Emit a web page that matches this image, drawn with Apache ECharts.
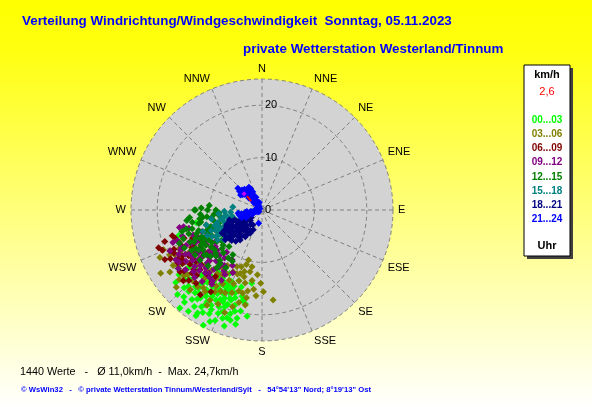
<!DOCTYPE html>
<html>
<head>
<meta charset="utf-8">
<script src="https://cdn.jsdelivr.net/npm/echarts@6/dist/echarts.min.js"></script>
<style>html,body{margin:0;padding:0;}#c{width:592px;height:407px;}</style>
</head>
<body>
<div id="c"></div>
<script>
// ---- data: [speed km/h, direction deg] ----
const directionLabels = ['N','NNE','NE','ENE','E','ESE','SE','SSE','S','SSW','SW','WSW','W','WNW','NW','NNW'];
const radiusTicks = ['0','10','20'];
const groupNames = ['00...03','03...06','06...09','09...12','12...15','15...18','18...21','21...24'];
const groupColors = ['#00ff00','#808000','#800000','#800080','#008000','#008080','#000080','#0000ff'];

const h00_03 = [[24.4,220],[23.8,212],[24.7,207],[20.8,201],[21.2,193],[18.2,199],[19.3,207],[21.1,211],[21.7,218],[19.4,221],[19.8,228],[17.4,213],[16.2,206],[16.7,198],[14.1,188],[16.6,253],[12.8,259],[17.6,192],[20.2,204],[22.2,207],[18.5,215],[20.5,215],[22.5,215],[23.0,220],[18.0,225],[21.0,225],[19.0,210],[17.0,202],[15.5,200],[22.0,200],[20.0,195],[18.8,205],[23.5,205],[16.0,218],[17.8,232],[15.0,210],[21.5,230],[19.5,235],[22.8,225],[18.2,190],[19.2,200],[20.6,208],[16.5,222],[17.2,208],[14.5,215],[15.2,195],[18.6,211],[19.9,217],[17.9,219],[21.4,203],[16.9,228],[20.9,222],[15.8,204],[18.9,196],
  [17.5,197],[18.3,203],[19.6,213],[20.3,219],[21.8,212],[22.6,210],[19.1,226],[17.7,225],[16.4,214],[15.6,207],[18.1,208],[20.7,197],[21.9,196],[23.2,212],[19.7,192],[16.9,193],[15.9,218],[17.3,217],[18.9,230],[20.1,232],[22.3,222],[21.3,207],[16.2,201],[14.8,203],[19.0,203],[23.9,216],[18.4,220],[20.4,211],[17.6,205],[22.9,203],
  [15.3,213],[16.1,209],[17.1,211],[18.7,214],[19.3,219],[16.8,216],[15.7,221],[17.0,223],[14.9,226],[16.3,231],[18.3,236],[15.4,240],[21.6,198],[22.4,193],[20.5,188],[19.8,201],[16.6,204],[21.0,216],[23.3,198],[17.9,200],[14.2,198],[13.6,207],[12.9,218],[20.2,224]];
const h03_06 = [[20.3,248],[18.5,239],[18.5,232],[18.9,224],[9.9,195],[12.0,191],[14.0,181],[15.6,179],[17.3,173],[14.3,193],[16.3,193],[17.3,204],[19.3,197],[18.4,190],[16.0,208],[17.0,215],[15.0,220],[16.5,226],[14.5,212],[13.0,205],[19.5,230],[20.0,238],[21.5,245],[17.8,236],[15.5,230],[13.8,218],[12.5,212],[11.5,200],[16.8,200],[18.0,210],[19.0,215],[20.5,222],[21.0,210],[15.2,186],[13.2,195],[17.5,245],[16.0,240],[14.0,235],[19.8,205],[22.0,228],[11.0,190],[20.8,200],[17.1,220],[18.7,243],[15.7,214],[16.6,234],
  [16.4,184],[13.6,188],[12.8,199],[18.8,229],[19.6,244],[21.2,236],[17.6,228],[15.8,222],[14.8,205],[16.1,196],[18.2,194],[19.9,210],[13.9,209],[20.6,230],[15.3,236],[22.8,238],[18.6,217],[17.0,190],[10.8,196],[12.4,184],
  [15.1,201],[14.2,198],[13.1,201],[16.9,211],[17.4,207],[19.1,220],[15.2,225],[16.2,230],[14.9,215],[17.7,242],[19.3,236],[12.2,196],[11.8,204],[15.7,190],[13.4,214]];
const h06_09 = [[20.5,248],[18.7,244],[17.0,249],[18.3,236],[14.9,246],[20.0,216],[15.5,215],[19.5,252],[17.5,240],[16.0,232],[16.8,244],[19.0,238],[18.0,228],[15.0,238],[14.0,226],[17.6,225],[16.2,220],[13.5,240],[19.8,242],[21.0,250],[15.8,250],[17.2,233],[18.8,222],[14.5,232],[16.5,238],[20.2,228],[13.0,232],[18.4,212],[17.8,254],[18.4,246],
  [19.2,246],[17.9,238],[16.4,226],[15.2,242],[14.3,248],[18.9,232],[20.8,243],[17.4,252],[16.7,215],[19.4,226],[13.8,236],[15.6,228],
  [16.1,235],[14.8,243],[17.3,229],[18.5,240],[15.3,224],[19.6,233],[16.9,247]];
const h09_12 = [[15.3,258],[16.2,239],[15.4,232],[13.5,229],[13.6,217],[11.1,211],[11.3,232],[16.2,222],[14.8,245],[12.5,238],[14.0,250],[13.0,242],[17.0,245],[16.0,252],[12.0,225],[10.5,220],[14.5,226],[15.8,228],[17.5,236],[18.0,242],[11.8,245],[13.8,235],[15.0,240],[12.8,214],[14.2,210],[16.8,230],[18.5,232],[10.8,236],[12.2,250],[17.2,250],[19.0,240],[16.5,215],[15.5,210],[13.2,205],[14.6,219],[11.5,228],[18.2,225],[16.0,245],[13.4,248],[12.0,208],[19.5,235],[17.8,220],[16.1,258],[14.2,238],
  [15.9,236],[14.9,232],[13.1,222],[12.6,232],[16.9,240],[17.6,228],[15.1,246],[14.1,244],[12.9,218],[16.4,234],[18.7,238],[11.6,218],[13.7,212],[15.7,220],[17.1,214],[14.4,256],[19.2,246],[16.6,226],[12.3,242],[18.1,250],
  [13.9,226],[15.4,224],[14.7,236],[12.7,228],[17.3,244],[13.3,244],[16.3,218],[11.9,223]];
const h12_15 = [[12.7,270],[10.6,263],[8.3,263],[12.7,252],[14.7,252],[11.7,241],[12.1,227],[14.3,238],[9.4,222],[13.5,260],[11.0,255],[9.8,248],[10.5,235],[13.0,245],[15.0,246],[14.0,232],[12.5,220],[11.2,215],[10.0,228],[8.8,238],[9.5,258],[11.8,266],[13.8,255],[15.5,240],[16.0,250],[12.0,234],[10.8,244],[13.2,228],[14.8,224],[11.5,249],[9.0,252],[8.0,246],[7.5,232],[10.2,213],[12.8,241],[14.5,262],[16.5,244],[13.6,236],[15.2,231],[11.0,222],[9.2,265],[12.3,258],[10.4,270],[7.8,258],[14.0,218],[13.0,212],[11.8,230],[15.8,255],[17.0,248],[12.6,246],[8.2,266],[12.9,270],
  [11.4,237],[12.2,244],[13.3,250],[10.1,240],[9.7,233],[11.9,259],[13.9,264],[10.9,250],[14.3,245],[12.4,225],[11.3,210],[15.4,236],[9.3,244],[8.6,253],[13.4,240],[10.6,226],[12.0,262],[14.9,256],[11.6,272],[10.1,275],[8.8,270],[13.1,218],
  [13.8,247],[12.7,238],[14.6,240],[11.1,246],[10.3,252],[13.6,231],[9.8,261],[11.4,263]];
const h15_18 = [[1.5,255],[2.0,262],[2.5,258],[3.0,250],[3.4,248],[5.6,276],[6.5,256],[8.8,249],[7.0,262],[7.5,252],[8.0,258],[9.0,244],[9.5,252],[6.8,244],[7.8,240],[8.5,236],[10.0,240],[9.2,232],[6.0,266],[10.5,248],[11.0,255],[5.8,258],[7.2,268],[8.3,265],[9.8,260],[6.2,250],[10.2,236],[4.5,262],[11.5,245],[12.0,250],[5.2,246],[7.4,236],[8.9,254],
  [6.9,250],[8.1,246],[9.3,240],[7.7,258],[5.5,252],[4.0,255],[3.7,258],[10.8,242],[9.6,246],[8.6,242],[6.4,240],[7.1,232]];
const h18_21 = [[2.5,235],[3.0,228],[3.2,242],[3.5,218],[3.8,235],[4.0,248],[4.2,225],[4.4,238],[4.6,215],[4.8,244],[5.0,230],[5.2,222],[5.4,240],[5.6,250],[5.8,226],[6.0,236],[6.2,218],[6.4,244],[6.6,230],[6.8,222],[7.0,240],[7.2,248],[7.4,228],[7.6,236],[7.8,220],[8.0,242],[8.3,230],[8.6,236],[9.0,231],[5.0,207],[6.1,249],[4.5,210],[3.6,252],[5.5,212],[6.5,253],[7.5,245],[8.2,225],[3.3,212],[4.1,204],[2.8,248],[5.9,229],[6.9,234],[4.9,237],[5.3,246],[7.1,216],
  [5.7,233],[6.3,226],[4.7,226],[3.9,240],[7.3,234],[6.7,242],[5.1,216],[4.3,232],[7.9,230],[8.8,240],[3.1,236],[6.0,212]];
const h21_24 = [[0.5,300],[0.8,320],[1.0,310],[1.2,325],[1.4,315],[1.6,330],[1.8,318],[2.0,322],[2.1,312],[2.3,328],[2.5,316],[2.6,324],[2.8,320],[3.0,314],[3.1,330],[3.3,322],[3.5,318],[3.6,326],[3.8,320],[4.0,324],[4.1,316],[4.3,328],[4.5,322],[4.6,332],[4.8,326],[5.0,330],[4.4,312],[5.2,320],[6.2,312],[3.9,333],[2.7,335],[1.5,340],[5.0,305],[4.7,308],[5.4,315],[0.8,260],[1.0,250],[1.3,262],[1.5,255],[1.8,258],[2.0,248],[2.2,262],[2.4,254],[2.6,250],[2.8,258],[3.0,252],[3.2,262],[3.4,248],[3.6,256],[3.8,252],[4.0,260],[4.2,250],[3.3,244],[2.6,194],[1.2,280],[0.6,290],[1.0,295],[0.7,240],
  [1.9,326],[2.9,316],[3.7,330],[4.2,320],[4.9,318],[5.6,310],[3.4,312],[2.4,320],[4.6,262],[4.4,256],[1.7,250],[2.9,264]];
const lastValueLine = [[3.9,313],[2.7,309]];
const lastValuePoint = [[4.6,312]];

const groups = [h00_03,h03_06,h06_09,h09_12,h12_15,h15_18,h18_21,h21_24];

const titleMain = 'Verteilung Windrichtung/Windgeschwindigkeit  Sonntag, 05.11.2023';
const titleSub = 'private Wetterstation Westerland/Tinnum';
const statsText = '1440 Werte   -   Ø 11,0km/h  -  Max. 24,7km/h';
const footerText = '© WsWin32   -   © private Wetterstation Tinnum/Westerland/Sylt   -   54°54\'13" Nord; 8°19\'13" Ost';
const unitText = 'km/h';
const currentText = '2,6';
const hourText = 'Uhr';

const chart = echarts.init(document.getElementById('c'), null, {renderer:'canvas'});

const series = groups.map((g, i) => ({
  name: groupNames[i], type: 'scatter', coordinateSystem: 'polar', polarIndex: 0,
  symbol: 'diamond', symbolSize: 7, data: g, z: 3,
  itemStyle: {color: groupColors[i], opacity: 1}, silent: true
}));
series.push({type:'line', coordinateSystem:'polar', polarIndex: 0, data: lastValueLine, symbol:'none',
  lineStyle:{color:'#ff0000', width:2}, z: 5, silent:true});
series.push({type:'scatter', coordinateSystem:'polar', polarIndex: 0, data: lastValuePoint, symbol:'diamond', symbolSize:5,
  itemStyle:{color:'#ff00ff'}, z: 5, silent:true});

const legendTexts = groupNames.map((n, i) => ({
  type: 'text', x: 547, y: 120 + i * 14.2,
  style: {text: n, fill: groupColors[i], font: 'bold 10px "Liberation Sans", Arial', align: 'center', verticalAlign: 'middle'}
}));

const dash = {color: '#808080', type: [4, 3], width: 1};

chart.setOption({
  animation: false,
  backgroundColor: {type:'linear', x:0, y:0, x2:0, y2:1, colorStops:[
    {offset:0, color:'#ffff00'},{offset:0.12, color:'#ffff10'},{offset:1, color:'#ffffff'}]},
  title: [
    {text: titleMain, left: 17, top: 10, textStyle:{color:'#0000ff', fontSize:13.4, fontWeight:'bold', fontFamily:'Liberation Sans'}},
    {text: titleSub, left: 238, top: 38, textStyle:{color:'#0000ff', fontSize:13.4, fontWeight:'bold', fontFamily:'Liberation Sans'}},
    {text: statsText, left: 15, top: 362, textStyle:{color:'#000000', fontSize:10.8, fontWeight:'normal', fontFamily:'Liberation Sans'}},
    {text: footerText, left: 16, top: 381, textStyle:{color:'#0000ff', fontSize:7.7, fontWeight:'bold', fontFamily:'Liberation Sans'}}
  ],
  polar: [{center: [262, 210], radius: 131}, {center: [262, 210], radius: 131}],
  angleAxis: [{
    polarIndex: 0, z: 1,
    type: 'value', min: 0, max: 360, interval: 22.5, startAngle: 90, clockwise: true,
    axisLine: {show: false}, axisTick: {show: false},
    axisLabel: {show: true, margin: 5, color: '#000', fontSize: 11, fontFamily: 'Liberation Sans',
      formatter: v => directionLabels[Math.round(v / 22.5) % 16]},
    splitLine: {show: true, lineStyle: dash}
  }, {
    polarIndex: 1, z: 0,
    type: 'value', min: 0, max: 360, interval: 360, startAngle: 90,
    axisLine: {show: false}, axisTick: {show: false}, axisLabel: {show: false}, splitLine: {show: false}
  }],
  radiusAxis: [{
    polarIndex: 0, z: 1,
    type: 'value', min: 0, max: 25, interval: 10,
    axisLine: {show: false}, axisTick: {show: false},
    axisLabel: {show: true, margin: -3, align: 'left', verticalAlign: 'middle', showMaxLabel: false, color: '#000', fontSize: 11, fontFamily: 'Liberation Sans',
      formatter: v => radiusTicks[Math.round(v / 10)] || ''},
    splitLine: {show: true, showMaxLine: false, lineStyle: dash},
    splitArea: {show: false}
  }, {
    polarIndex: 1, z: 0,
    type: 'value', min: 0, max: 25, interval: 25,
    axisLine: {show: false}, axisTick: {show: false}, axisLabel: {show: false}, splitLine: {show: false},
    splitArea: {show: true, areaStyle: {color: ['#d3d3d3']}}
  }],
  graphic: [{
    type: 'group', children: [
      {type:'rect', shape:{x:527, y:68, width:46, height:191}, style:{fill:'#404040'}},
      {type:'rect', shape:{x:524, y:65, width:46, height:191}, style:{fill:'#ffffff', stroke:'#000000', lineWidth:1}},
      {type:'text', x:547, y:75, style:{text: unitText, fill:'#000', font:'bold 11px "Liberation Sans", Arial', align:'center', verticalAlign:'middle'}},
      {type:'text', x:547, y:92, style:{text: currentText, fill:'#ff0000', font:'11px "Liberation Sans", Arial', align:'center', verticalAlign:'middle'}},
      ...legendTexts,
      {type:'text', x:547, y:246, style:{text: hourText, fill:'#000', font:'bold 11px "Liberation Sans", Arial', align:'center', verticalAlign:'middle'}}
    ]
  }],
  series: series
});
</script>
</body>
</html>
